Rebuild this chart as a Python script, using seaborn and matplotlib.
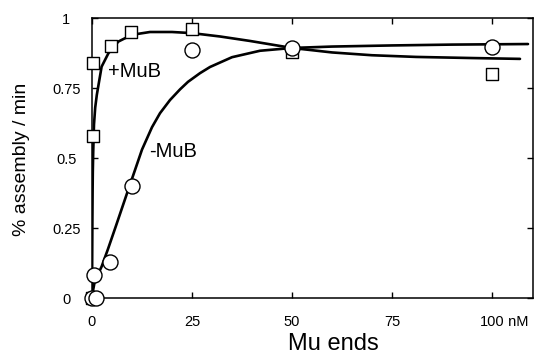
import matplotlib
matplotlib.use("Agg")
import matplotlib.pyplot as plt
import seaborn as sns
import pandas as pd

# ---- data ----
plus_x = [0, 0.3, 0.3, 4.75, 9.75, 25, 50, 100]
plus_y = [0, 0.58, 0.84, 0.90, 0.95, 0.96, 0.88, 0.80]

minus_x = [0, 1, 0.5, 4.5, 10, 25, 50, 100]
minus_y = [0, 0, 0.082, 0.13, 0.40, 0.886, 0.892, 0.897]

plus_fit_x = [0, 0.05, 0.1, 0.15, 0.2, 0.3, 0.5, 0.8, 1.2, 2.4, 4.1, 6.6, 10, 14.5,
              20, 25, 32, 39.5, 50, 60, 70, 81, 95, 107]
plus_fit_y = [0, 0.15, 0.28, 0.38, 0.45, 0.52, 0.62, 0.68, 0.725, 0.826, 0.874, 0.916,
              0.94, 0.95, 0.95, 0.946, 0.934, 0.918, 0.893, 0.877, 0.867, 0.861, 0.857, 0.854]

minus_fit_x = [0, 0.3, 0.7, 1.2, 2.4, 4, 6, 8.9, 10.75, 12.5, 15, 17, 19.5, 22, 24, 27,
               29.5, 35, 42, 50, 60, 75, 90, 109]
minus_fit_y = [0, 0.03, 0.06, 0.076, 0.112, 0.175, 0.258, 0.38, 0.457, 0.53, 0.61, 0.66,
               0.707, 0.745, 0.772, 0.803, 0.825, 0.86, 0.883, 0.893, 0.898, 0.902, 0.905, 0.907]

x_ticks = [0, 25, 50, 75, 100]
x_tick_labels = ["0", "25", "50", "75", "100"]
y_ticks = [0, 0.25, 0.5, 0.75, 1]
y_tick_labels = ["0", "0.25", "0.5", "0.75", "1"]

sns.set_theme(style="white")
plt.rcParams["font.family"] = ["Liberation Sans", "DejaVu Sans"]

W, H = 541, 358
fig = plt.figure(figsize=(W / 100, H / 100), dpi=100)
ax = fig.add_axes([92 / W, 1 - 298 / H, (533 - 92) / W, (298 - 18) / H])

fit_plus = pd.DataFrame({"x": plus_fit_x, "y": plus_fit_y})
fit_minus = pd.DataFrame({"x": minus_fit_x, "y": minus_fit_y})
sns.lineplot(data=fit_plus, x="x", y="y", ax=ax, color="black", lw=1.9,
             sort=False, estimator=None, zorder=2)
sns.lineplot(data=fit_minus, x="x", y="y", ax=ax, color="black", lw=1.9,
             sort=False, estimator=None, zorder=2)

pts_plus = pd.DataFrame({"x": plus_x, "y": plus_y})
pts_minus = pd.DataFrame({"x": minus_x, "y": minus_y})
sns.scatterplot(data=pts_plus, x="x", y="y", ax=ax, marker="s", s=75,
                facecolor="white", edgecolor="black", linewidth=1.0,
                zorder=3, clip_on=False)
sns.scatterplot(data=pts_minus, x="x", y="y", ax=ax, marker="o", s=117,
                facecolor="white", edgecolor="black", linewidth=1.0,
                zorder=4, clip_on=False)

ax.set_xlim(0, 110.25)
ax.set_ylim(0, 1)

ax.set_xticks(x_ticks)
ax.set_xticklabels(x_tick_labels)
ax.set_yticks(y_ticks)
ax.set_yticklabels(y_tick_labels)
for lab in ax.get_yticklabels():
    lab.set_horizontalalignment("center")

ax.tick_params(axis="both", which="major", direction="in", length=4.5, width=1.0,
               color="black", labelsize=10.5, labelcolor="black",
               top=True, right=True, bottom=True, left=True)
ax.tick_params(axis="y", pad=18.5)
ax.tick_params(axis="x", pad=12)

for sp in ax.spines.values():
    sp.set_color("black")
    sp.set_linewidth(1.1)

ax.set_xlabel("Mu ends", fontsize=17, color="black")
ax.xaxis.label.set_va("baseline")
ax.xaxis.set_label_coords((333 - 92) / 441, (298 - 350) / 280)
ax.set_ylabel("% assembly / min", fontsize=14, color="black")
ax.yaxis.label.set_va("center")
ax.yaxis.set_label_coords((22 - 92) / 441, (298 - 159) / 280)

ax.text(4, 0.789, "+MuB", fontsize=14.5, color="black", va="baseline", ha="left")
ax.text(14.25, 0.505, "-MuB", fontsize=14.5, color="black", va="baseline", ha="left")

# " nM" unit after the last x tick label
fig.canvas.draw()
last = ax.get_xticklabels()[-1]
bb = last.get_window_extent()
fig.text(bb.x1 / W, bb.y1 / H, " nM", fontsize=10.5,
         color="black", ha="left", va="top")

fig.savefig("out.png", dpi=100, facecolor="white")
